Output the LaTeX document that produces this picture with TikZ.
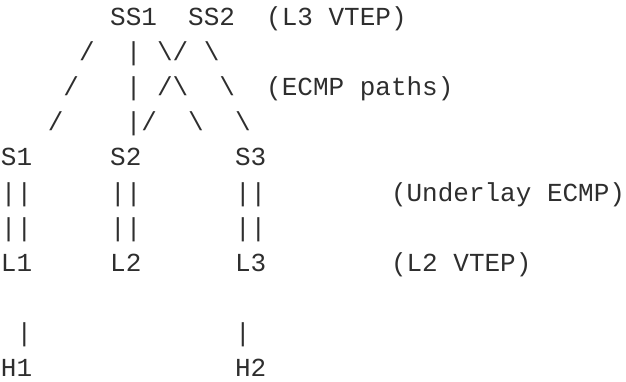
\documentclass[tikz,border=0pt]{standalone}
\usepackage{fontspec}
\newfontfamily\asciimono{Liberation Mono}
\definecolor{ink}{HTML}{2E2E2E}
\tikzset{
  txt/.style={anchor=base west, inner sep=0pt, outer sep=0pt, text=ink,
              font=\asciimono\fontsize{26}{30}\selectfont}
}
% column / line to coordinates (1 unit = 1pt)
\newcommand{\cx}[1]{1+15.6*#1}
\newcommand{\ly}[1]{-25.5-35.1*#1}
\newcommand{\cellat}[4]{\node[txt] (#3) at ({\cx{#1}},{\ly{#2}}) {#4};}
\begin{document}
\begin{tikzpicture}[x=1pt,y=1pt]
\useasboundingbox (0,0) rectangle (626,-381);
% line 0
\cellat{7}{0}{ss1}{SS1}
\cellat{12}{0}{ss2}{SS2}
\cellat{17}{0}{l3vtep}{(L3 VTEP)}
% line 1
\cellat{5}{1}{a1}{/}
\cellat{8}{1}{a2}{|}
\cellat{10}{1}{a3}{\textbackslash/}
\cellat{13}{1}{a4}{\textbackslash}
% line 2
\cellat{4}{2}{b1}{/}
\cellat{8}{2}{b2}{|}
\cellat{10}{2}{b3}{/\textbackslash}
\cellat{14}{2}{b4}{\textbackslash}
\cellat{17}{2}{ecmp}{(ECMP paths)}
% line 3
\cellat{3}{3}{c1}{/}
\cellat{8}{3}{c2}{|/}
\cellat{12}{3}{c3}{\textbackslash}
\cellat{15}{3}{c4}{\textbackslash}
% line 4
\cellat{0}{4}{s1}{S1}
\cellat{7}{4}{s2}{S2}
\cellat{15}{4}{s3}{S3}
% line 5
\cellat{0}{5}{d1}{||}
\cellat{7}{5}{d2}{||}
\cellat{15}{5}{d3}{||}
\cellat{25}{5}{underlay}{(Underlay ECMP)}
% line 6
\cellat{0}{6}{e1}{||}
\cellat{7}{6}{e2}{||}
\cellat{15}{6}{e3}{||}
% line 7
\cellat{0}{7}{l1}{L1}
\cellat{7}{7}{l2}{L2}
\cellat{15}{7}{l3}{L3}
\cellat{25}{7}{l2vtep}{(L2 VTEP)}
% line 9
\cellat{1}{9}{f1}{|}
\cellat{15}{9}{f2}{|}
% line 10
\cellat{0}{10}{h1}{H1}
\cellat{15}{10}{h2}{H2}
\end{tikzpicture}
\end{document}
